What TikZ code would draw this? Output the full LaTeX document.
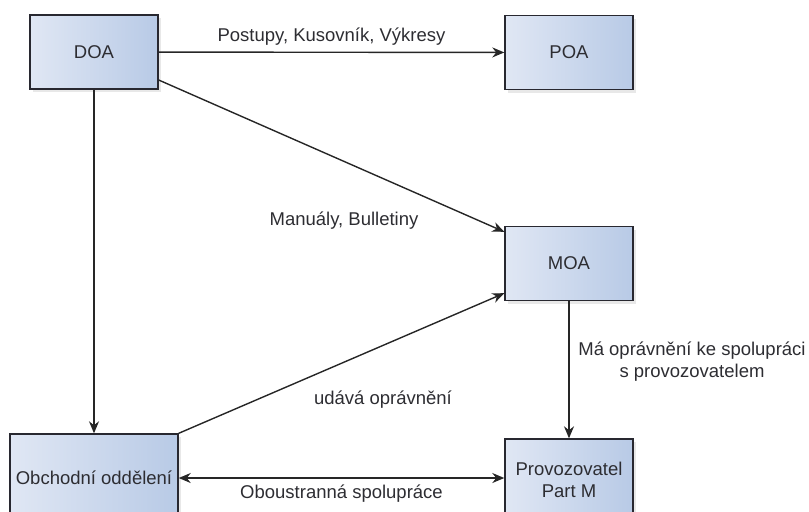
\documentclass[tikz,border=0pt]{standalone}
\usepackage{fontspec}
\setmainfont{Liberation Sans}
\usetikzlibrary{positioning, arrows.meta, shadows, calc}
\definecolor{boxleft}{RGB}{224,231,244}
\definecolor{boxright}{RGB}{184,202,230}
\definecolor{boxline}{RGB}{40,40,48}
\definecolor{txt}{RGB}{45,45,50}

\begin{document}
\begin{tikzpicture}[x=0.5pt, y=-0.5pt, font=\fontsize{9.25}{11}\selectfont,
  >={Stealth[length=6pt,width=5pt]},
  unit/.style={draw=boxline, line width=0.7pt, left color=boxleft, right color=boxright,
               text=txt, align=center, minimum width=64pt, minimum height=37pt,
               inner sep=2pt,
               drop shadow={opacity=0.18, shadow xshift=1.5pt, shadow yshift=-1.5pt}},
  lbl/.style={text=txt, align=center, inner sep=2pt},
  flow/.style={->, line width=0.7pt, draw=black!85}]
  \clip (0,0) rectangle (809,511);
  % organisations
  \node[unit] (doa) at (94,52) {DOA};
  \node[unit] (poa) at (569,52.5) {POA};
  \node[unit] (moa) at (569,263.5) {MOA};
  % bottom row (cut by the page edge)
  \node[unit, minimum width=84pt, minimum height=44pt] (obch) at (94,478) {Obchodní oddělení};
  \node[unit, minimum height=41pt] (prov) at (569,480) {Provozovatel\\ Part M};
  % edges
  \draw[flow] (doa) -- node[lbl, above=1pt] (lpost) {Postupy, Kusovník, Výkresy} (poa);
  \draw[flow] ([yshift=-14pt]doa.east) -- ([yshift=-3pt]moa.north west);
  \node[lbl] (lman) at (344,221) {Manuály, Bulletiny};
  \draw[flow] (doa) -- (obch);
  \draw[flow] (obch.north east) -- ([yshift=4pt]moa.south west);
  \node[lbl] (lopr) at (383,400) {udává oprávnění};
  \draw[flow] (moa) -- (prov);
  \node[lbl] (lspol) at (692,362) {Má oprávnění ke spolupráci\\ s provozovatelem};
  \draw[flow, <->] (obch.east) -- node[lbl, below=1pt] (lobou) {Oboustranná spolupráce}
    (obch.east -| prov.west);
\end{tikzpicture}
\end{document}
